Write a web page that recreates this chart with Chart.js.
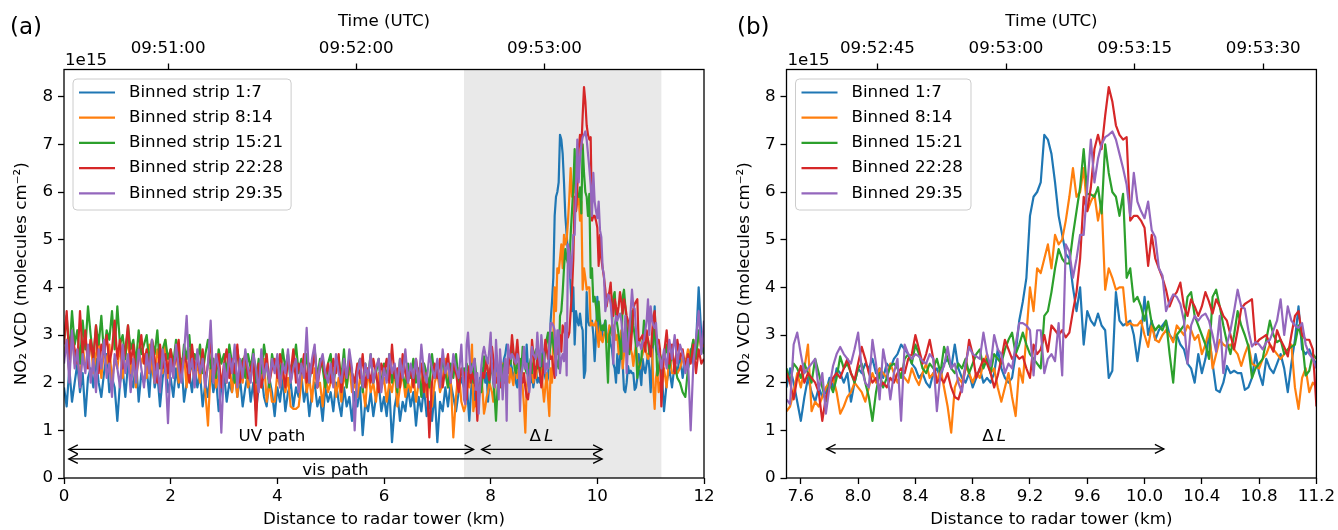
<!DOCTYPE html>
<html>
<head>
<meta charset="utf-8">
<script src="https://cdn.jsdelivr.net/npm/chart.js@4.4.1/dist/chart.umd.min.js"></script>
<style>
  html, body { margin: 0; padding: 0; background: #fff; }
  #wrap { position: relative; width: 1338px; height: 530px; }
  #wrap canvas { position: absolute; top: 0; }
  #ca { left: 0; }
  #cb { left: 720px; }
</style>
</head>
<body>
<div id="wrap">
  <canvas id="ca" width="720" height="530"></canvas>
  <canvas id="cb" width="618" height="530"></canvas>
</div>
<script>
// ---- data (NO2 VCD in units of 1e15 molecules cm^-2) ----
// sampling grids: far part of the track (panel a only) and the plume part (both panels)
const FAR_LEFT_START = 0, FAR_RIGHT_START = 11.25, FAR_STEP = 0.05;
const PLUME_START = 7.5, PLUME_STEP = 0.025;

const LABELS_A = ['Binned strip 1:7', 'Binned strip 8:14', 'Binned strip 15:21', 'Binned strip 22:28', 'Binned strip 29:35'];
const LABELS_B = ['Binned 1:7', 'Binned 8:14', 'Binned 15:21', 'Binned 22:28', 'Binned 29:35'];
const COLORS = ['#1f77b4', '#ff7f0e', '#2ca02c', '#d62728', '#9467bd'];

// 0 - 7.45 km
const s1_far = [1.9,1.5,2.3,1.6,2.0,2.4,1.8,2.2,1.3,2.1, 2.3,1.9,2.5,2.0,1.7,2.2,2.6,1.8,2.1,1.9, 1.2,2.0,2.3,1.7,2.4,2.1,1.9,2.5,1.6,2.2, 2.0,2.3,1.7,2.6,1.9,2.2,1.5,2.1,2.4,1.8, 2.1,1.7,2.3,1.9,2.5,1.6,2.0,2.2,1.8,2.4, 1.9,2.2,1.5,2.0,1.7,2.3,1.8,2.1,1.4,1.9, 2.2,1.6,2.0,1.8,2.4,1.7,2.1,1.5,1.9,2.2, 1.6,2.0,1.4,1.9,2.2,1.7,1.5,2.1,1.8,1.3, 1.9,1.6,2.1,1.4,1.8,2.0,1.5,1.9,1.7,2.2, 1.6,1.9,1.3,1.8,2.0,1.5,1.7,1.2,1.9,1.6, 1.8,1.4,2.0,1.6,1.3,1.9,1.5,1.7,1.2,1.8, 1.5,1.9,0.9,1.6,1.4,1.8,1.3,1.7,2.0,1.4, 1.7,1.3,1.9,0.75,1.5,1.8,1.2,1.6,1.4,1.9, 1.5,1.8,1.1,1.7,1.4,1.9,1.3,1.6,1.2,1.8, 0.75,1.6,1.4,1.9,1.5,2.0,1.7,1.4,1.8,2.1];
const s2_far = [2.6,2.9,2.2,3.1,2.4,2.7,2.0,2.8,2.3,2.5, 2.9,2.2,2.6,3.0,2.1,2.7,2.4,2.8,2.0,2.5, 2.3,2.8,2.1,2.6,2.9,2.2,2.5,1.9,2.7,2.4, 2.6,2.1,2.8,2.3,2.0,2.7,2.4,2.2,2.9,2.1, 2.5,2.2,2.8,2.0,2.4,2.6,1.9,2.7,2.3,2.1, 2.4,2.0,2.6,1.8,1.1,2.3,2.5,1.9,2.2,2.0, 2.3,2.0,2.5,1.8,2.2,1.7,2.4,2.0,2.6,1.9, 2.1,2.4,1.7,2.2,1.9,2.5,1.6,2.0,1.6,1.6, 2.2,1.9,2.3,1.8,2.1,1.5,1.45,1.45,1.5,2.0, 2.4,1.8,2.1,1.6,2.3,1.9,2.0,1.5,2.2,1.8, 2.0,2.3,1.7,2.1,1.6,2.2,1.9,2.4,1.8,2.0, 1.7,2.1,1.9,1.5,2.3,1.8,2.0,1.6,2.2,1.9, 2.1,1.6,2.0,1.8,2.3,1.5,1.9,2.2,1.7,2.0, 1.8,2.2,1.6,2.0,1.9,2.4,1.7,2.1,1.5,2.0, 2.2,1.8,2.0,2.5,1.9,2.1,0.85,1.7,2.3,1.6];
const s3_far = [2.9,3.4,2.6,3.5,2.8,3.1,2.4,3.3,2.7,3.6, 3.0,2.5,3.2,2.8,3.4,2.6,3.1,2.9,3.5,2.7, 3.6,2.8,3.0,2.5,3.2,2.7,2.9,2.4,3.1,2.6, 2.8,3.0,2.4,2.9,2.6,3.1,2.3,2.7,2.9,2.5, 2.7,2.4,2.9,2.6,2.2,2.8,2.5,3.0,2.3,2.6, 2.4,2.8,2.2,2.6,2.9,2.3,2.5,2.1,2.7,2.4, 2.6,2.2,2.8,2.4,2.0,2.7,2.3,2.5,2.1,2.6, 2.3,2.7,2.0,2.5,2.2,2.8,2.4,1.9,2.6,2.3, 2.5,2.1,2.7,2.3,2.6,2.0,2.4,2.8,2.2,2.5, 2.2,2.6,2.0,2.4,2.7,2.1,2.5,2.3,1.9,2.4, 2.6,2.0,2.3,2.5,2.1,2.7,1.9,2.4,2.2,2.0, 2.3,2.5,1.8,2.4,2.1,2.6,2.0,2.2,2.5,1.9, 2.4,2.1,2.6,2.0,2.3,1.8,2.5,2.2,1.9,2.4, 2.1,2.5,2.0,2.3,1.7,2.4,2.2,1.9,2.6,2.1, 2.3,2.0,2.5,2.2,1.9,2.4,2.1,2.6,2.0,2.2];
const s4_far = [2.8,3.5,2.5,3.0,2.7,2.4,3.5,2.6,3.1,2.3, 2.9,2.5,3.2,2.2,2.8,2.6,3.0,2.4,2.7,3.3, 2.5,2.9,2.3,2.7,3.2,2.4,2.8,2.1,2.6,3.0, 2.4,2.7,2.2,2.9,2.5,2.0,2.8,2.3,2.6,2.2, 2.7,2.3,2.5,2.9,2.1,2.6,2.4,2.0,2.8,2.3, 2.5,2.2,2.7,2.0,2.4,2.9,2.1,2.3,2.6,1.9, 2.4,2.7,2.1,2.5,2.2,2.8,2.0,2.4,2.6,2.1, 2.3,2.5,1.1,2.4,1.9,2.2,2.6,2.0,2.3,2.5, 2.1,2.6,2.3,1.9,2.5,2.2,2.7,2.0,2.4,2.2, 2.6,2.0,2.4,2.2,2.7,1.9,2.3,2.5,2.1,2.4, 2.0,2.5,2.2,2.6,1.8,2.3,2.1,2.5,2.2,2.0, 2.4,2.1,2.6,1.9,2.3,2.0,2.5,2.2,1.8,2.4, 2.2,2.5,2.0,2.8,2.1,2.3,1.9,2.6,2.2,2.0, 2.3,1.9,2.5,2.1,2.4,1.8,2.2,0.85,2.0,2.4, 2.1,2.5,1.9,2.3,2.6,2.0,2.4,2.2,1.8,2.3];
const s5_far = [2.4,2.9,2.0,3.1,2.3,2.7,1.9,2.6,2.2,2.8, 2.0,2.5,1.8,2.7,2.3,2.9,2.1,2.4,1.7,2.6, 2.3,1.9,2.8,2.2,2.6,1.8,2.5,2.0,2.7,2.3, 1.9,2.6,2.2,2.9,2.0,2.4,1.8,2.7,2.3,1.15, 2.5,2.1,2.8,2.3,2.0,2.6,3.4,2.2,2.5,1.9, 2.7,2.2,2.5,1.9,2.4,3.3,2.0,2.6,2.3,0.95, 2.4,2.0,2.6,2.2,2.8,1.9,2.5,2.1,2.7,2.3, 2.0,2.6,2.3,1.8,2.7,2.1,2.4,2.0,2.5,2.2, 2.6,1.9,2.4,2.2,2.7,2.0,2.3,2.5,1.8,2.4, 2.1,3.15,2.0,2.5,2.8,1.9,2.4,2.6,2.2,2.0, 2.4,1.9,2.6,2.2,2.0,2.5,2.1,2.7,2.3,1.0, 2.2,2.5,1.9,2.4,2.1,2.6,2.0,2.3,2.5,1.8, 2.3,2.0,2.6,2.2,2.4,1.9,2.5,2.1,2.7,2.0, 2.4,2.1,2.5,1.9,2.8,2.2,2.0,2.6,2.3,2.1, 2.5,1.9,2.7,2.2,2.4,2.0,2.6,2.3,2.1,2.8];

// 7.5 - 11.2 km (plume crossing)
const s1_plume = [1.9,2.3,2.0,1.6,1.2,1.7,2.1,1.8,1.6,1.9,1.7,1.8,2.1,1.9,2.3,2.2,2.0,2.2,1.6,2.0, 2.3,2.2,2.4,2.3,2.5,2.2,2.3,2.1,2.4,2.3,2.5,2.6,2.8,2.7,2.6,2.4,2.3,2.1,2.2,2.0, 1.9,2.2,2.3,2.1,2.4,2.5,2.3,2.8,2.3,2.1,2.0,2.2,1.9,2.1,2.3,2.0,2.1,2.0,2.2,2.7, 2.3,2.1,2.0,2.1,2.6,3.3,3.7,4.2,5.5,5.9,6.0,6.2,7.2,7.1,6.8,6.2,5.5,5.1,4.7,4.6, 4.0,3.5,4.0,2.8,3.5,3.3,3.2,3.45,3.2,3.1,2.1,2.25,3.9,3.3,3.2,3.25,3.3,3.0,2.45,3.0, 3.8,3.0,3.3,2.9,3.1,3.2,3.3,3.0,2.9,3.0,2.8,2.7,2.4,2.3,2.0,2.6,2.2,2.5,3.0,2.4, 1.85,1.8,2.0,2.35,2.2,2.25,2.2,2.2,1.85,1.9,2.1,2.6,2.2,1.95,2.5,2.3,2.2,2.4,2.6,2.3, 1.8,2.4,2.9,3.6,2.7,2.6,2.7,2.5,2.4];
const s2_plume = [1.4,1.5,1.8,2.2,1.9,2.3,2.8,1.4,1.6,1.5,1.7,1.9,2.0,2.1,1.8,1.35,1.5,1.7,1.8,2.0, 1.9,1.8,1.6,1.9,2.2,2.0,2.3,2.2,2.1,2.4,2.2,2.0,2.2,2.1,2.0,2.3,2.1,1.95,2.2,2.4, 2.1,2.2,2.0,2.3,1.9,1.5,0.95,1.9,2.1,2.0,2.35,2.2,2.0,2.2,2.1,2.4,2.6,2.2,2.3,1.9, 1.6,1.9,2.2,1.7,1.3,2.3,2.0,3.0,4.0,3.5,4.4,4.3,4.6,4.9,4.4,5.1,4.9,5.0,5.4,5.9, 6.5,5.9,6.0,6.5,5.6,5.8,5.95,5.4,5.8,3.95,4.4,4.2,3.95,4.0,4.0,3.2,3.25,3.2,3.2,3.3, 3.0,2.75,3.2,2.9,2.85,3.0,3.1,3.0,2.85,3.2,3.1,3.0,3.2,3.1,2.9,3.0,2.6,2.8,3.1,2.3, 2.6,2.9,2.8,2.75,2.8,2.7,2.6,2.35,2.6,2.8,2.4,2.35,2.3,2.5,2.6,2.8,2.7,2.6,2.5,2.6, 2.7,2.8,1.9,1.45,2.1,2.3,1.8,2.0,1.9];
const s3_plume = [2.3,2.0,2.4,2.3,2.1,2.4,2.2,2.0,2.5,2.2,1.9,1.6,2.0,1.8,2.1,2.55,2.3,2.4,2.2,2.0, 2.3,2.4,2.0,1.7,1.2,1.8,2.2,1.9,2.1,2.35,2.4,2.3,2.1,2.5,2.6,2.4,2.8,2.6,2.3,2.2, 2.4,2.3,2.5,2.2,2.75,2.5,2.3,2.2,2.4,2.3,2.5,2.2,2.4,2.6,2.7,2.3,2.5,2.2,2.6,2.5, 2.4,2.7,2.9,3.05,2.6,2.8,3.05,2.8,2.6,2.5,2.4,2.3,3.4,3.5,3.9,4.4,4.8,4.6,4.5,4.5, 5.1,5.6,6.1,6.9,5.96,5.95,5.9,6.1,5.55,7.0,6.4,6.0,5.9,5.5,5.96,4.2,4.4,3.7,3.8,3.6, 3.3,3.7,3.25,3.1,3.2,3.1,3.3,2.6,2.0,3.0,3.1,3.2,3.8,3.9,3.4,3.2,3.0,2.8,2.5,3.8, 3.95,3.6,3.2,2.85,2.6,3.0,3.5,3.2,3.0,2.76,2.1,2.3,2.4,2.5,2.9,3.3,3.0,2.85,2.9,2.6, 2.7,2.75,2.8,3.2,2.9,2.15,2.25,2.6,2.5];
const s4_plume = [2.2,2.0,1.65,2.1,2.35,2.0,2.2,2.1,2.0,1.8,1.2,1.7,1.9,2.1,2.2,2.1,2.3,2.5,2.2,2.05, 2.4,2.75,2.5,2.2,2.0,2.1,1.9,2.0,1.9,2.1,2.0,2.2,2.3,2.2,2.5,2.6,3.0,2.7,2.4,2.6, 2.9,2.5,2.0,2.1,2.0,2.2,1.9,1.7,1.65,1.9,2.3,2.9,2.6,2.1,2.3,2.5,2.4,2.2,1.9,2.15, 2.5,2.9,2.7,2.5,2.6,2.5,2.55,2.3,2.1,2.8,2.6,2.7,3.0,2.65,3.2,3.1,3.0,3.1,2.95,3.05, 3.5,3.9,4.6,5.9,5.6,6.1,6.9,7.2,6.9,7.6,8.2,7.9,7.4,7.2,7.1,7.15,5.4,5.5,5.5,5.4, 5.25,4.45,5.1,4.6,4.4,4.2,3.95,3.6,3.8,3.9,4.1,3.6,3.4,3.75,3.6,3.4,3.6,3.9,3.7,3.45, 3.75,3.6,3.4,3.3,3.0,2.7,3.1,3.55,3.65,3.7,3.75,2.8,2.9,2.95,3.0,2.8,2.65,3.1,2.9,2.75, 2.55,3.0,3.4,3.5,3.0,2.9,2.9,2.7,1.5];
const s5_plume = [1.65,1.55,2.8,3.05,2.6,2.2,2.3,2.4,2.5,1.85,2.2,1.35,1.9,2.35,2.6,2.75,2.6,2.5,2.4,2.7, 3.05,2.3,2.0,1.9,2.9,2.4,1.65,2.7,2.3,1.65,2.2,2.5,1.2,2.8,2.6,2.5,2.6,2.55,2.45,2.4, 2.6,2.5,1.4,2.2,2.35,2.75,2.3,2.4,2.0,1.8,2.4,2.75,2.6,2.55,2.5,3.05,2.6,2.35,3.0,2.7, 2.6,2.2,2.4,2.3,2.8,3.25,3.25,3.2,3.1,2.15,3.1,3.1,2.2,2.5,2.6,2.45,3.25,2.15,4.9,4.75, 4.2,4.6,5.1,5.1,6.1,7.1,6.2,6.7,7.0,7.15,7.2,7.27,7.1,6.8,6.5,6.15,5.5,6.4,5.8,5.6, 5.45,5.8,5.2,5.05,4.4,4.25,3.5,3.7,3.85,3.8,3.65,3.3,2.4,3.2,3.4,3.3,3.4,3.45,3.3,3.0, 2.65,3.4,2.2,2.8,3.1,3.5,3.95,3.6,3.55,3.1,2.76,2.85,2.8,2.7,2.85,2.9,3.1,3.3,3.75,3.0, 3.6,3.3,3.2,3.15,3.25,2.8,2.6,2.5,2.3];

// 11.25 - 12 km
const s1_end = [1.4,2.0,2.3,1.9,2.4,2.2,2.6,2.1,2.5,2.3,2.7,2.4,2.8,4.0,3.0,2.6];
const s2_end = [2.3,1.9,2.6,2.2,2.2,2.2,2.3,2.5,2.4,2.7,2.5,2.9,2.6,3.0,2.7,2.8];
const s3_end = [2.5,2.8,2.3,2.6,2.4,2.1,2.0,1.8,1.7,2.3,2.6,2.9,2.5,3.1,2.8,2.6];
const s4_end = [2.6,3.1,2.4,2.8,2.2,2.9,2.5,2.7,2.3,2.6,2.4,2.8,2.2,2.7,2.4,2.5];
const s5_end = [2.7,2.3,2.9,2.5,3.0,2.4,2.8,2.6,2.2,2.5,1.0,2.4,2.9,3.5,2.6,3.3];

// axes
const Y_TICKS = [0, 1, 2, 3, 4, 5, 6, 7, 8];
const Y_MAX = 8.57;
const X_TICKS_A = [0, 2, 4, 6, 8, 10, 12];
const X_TICKS_B = [7.6, 8.0, 8.4, 8.8, 9.2, 9.6, 10.0, 10.4, 10.8, 11.2];
// time axis in seconds after 09:50:00
const TIME_TICKS_A = [60, 120, 180];
const TIME_RANGE_A = [26.8, 230.9];
const TIME_TICKS_B = [165, 180, 195, 210];
const TIME_RANGE_B = [154.4, 216.2];

const SHADE_KM = [7.5, 11.2];

const FAR = [s1_far, s2_far, s3_far, s4_far, s5_far];
const PLUME = [s1_plume, s2_plume, s3_plume, s4_plume, s5_plume];
const END = [s1_end, s2_end, s3_end, s4_end, s5_end];

// ---- helpers ----
const FONT_FAMILY = "'DejaVu Sans', sans-serif";
const FS = 16.7;
Chart.defaults.font.family = FONT_FAMILY;
Chart.defaults.font.size = FS;
Chart.defaults.color = '#000';

const toPoints = (start, step, vals) => vals.map((v, i) => ({ x: +(start + i * step).toFixed(3), y: v }));

function fmtTime(s) {
  const m = 50 + Math.floor(s / 60);
  const sec = Math.round(s - (m - 50) * 60);
  return '09:' + m + ':' + String(sec).padStart(2, '0');
}

const tickGrid = { drawOnChartArea: false, drawTicks: true, tickLength: 6, tickColor: '#000', tickWidth: 1.3 };

function makeScales(o) {
  return {
    x: {
      type: 'linear', position: 'bottom', min: o.xMin, max: o.xMax,
      afterBuildTicks: s => { s.ticks = o.xTicks.map(v => ({ value: v })); },
      ticks: { autoSkip: false, maxRotation: 0, padding: 3, callback: o.xFmt },
      grid: tickGrid, border: { display: false },
      title: { display: true, text: 'Distance to radar tower (km)', padding: { top: 0, bottom: 0 } },
      afterFit: s => { s.height = 52; }
    },
    t: {
      type: 'linear', position: 'top', min: o.tRange[0], max: o.tRange[1],
      afterBuildTicks: s => { s.ticks = o.tTicks.map(v => ({ value: v })); },
      ticks: { autoSkip: false, maxRotation: 0, padding: 5, callback: v => fmtTime(v) },
      grid: tickGrid, border: { display: false },
      title: { display: true, text: 'Time (UTC)', padding: { top: 12, bottom: 0 } },
      afterFit: s => { s.height = 69.5; }
    },
    y: {
      type: 'linear', position: 'left', min: 0, max: Y_MAX,
      afterBuildTicks: s => { s.ticks = Y_TICKS.map(v => ({ value: v })); },
      ticks: { padding: 5, callback: v => String(v) },
      grid: tickGrid, border: { display: false },
      title: { display: true, text: 'NO\u2082 VCD (molecules cm\u207B\u00B2)', padding: { top: o.yTitlePad, bottom: 0 } },
      afterFit: s => { s.width = o.leftW; }
    }
  };
}

function arrow(ctx, x1, x2, y) {
  ctx.beginPath(); ctx.moveTo(x1, y); ctx.lineTo(x2, y); ctx.stroke();
  [[x1, 1], [x2, -1]].forEach(([x, d]) => {
    ctx.beginPath();
    ctx.moveTo(x + d * 9, y - 4.5); ctx.lineTo(x, y); ctx.lineTo(x + d * 9, y + 4.5);
    ctx.stroke();
  });
}

function deltaL(ctx, cx, cy) {
  ctx.font = FS + 'px ' + FONT_FAMILY;
  const w1 = ctx.measureText('\u0394').width;
  ctx.font = 'italic ' + FS + 'px ' + FONT_FAMILY;
  const w2 = ctx.measureText('L').width;
  const gap = 3;
  const x0 = cx - (w1 + gap + w2) / 2;
  ctx.textAlign = 'left';
  ctx.font = FS + 'px ' + FONT_FAMILY;
  ctx.fillText('\u0394', x0, cy);
  ctx.font = 'italic ' + FS + 'px ' + FONT_FAMILY;
  ctx.fillText('L', x0 + w1 + gap, cy);
}

// panel decorations: shade, frame, legend, annotations, letters
function decor(o) {
  return {
    id: 'decor',
    beforeDatasetsDraw(chart) {
      if (!o.shade) return;
      const { ctx, chartArea: a, scales: { x } } = chart;
      ctx.save();
      ctx.fillStyle = 'rgba(211,211,211,0.5)';
      const x1 = x.getPixelForValue(SHADE_KM[0]), x2 = x.getPixelForValue(SHADE_KM[1]);
      ctx.fillRect(x1, a.top, x2 - x1, a.bottom - a.top);
      ctx.restore();
    },
    afterDatasetsDraw(chart) {
      const { ctx, chartArea: a, scales: { x, y } } = chart;
      ctx.save();
      // arrows and labels
      ctx.strokeStyle = '#000'; ctx.fillStyle = '#000'; ctx.lineWidth = 1.3;
      o.arrows.forEach(r => arrow(ctx, x.getPixelForValue(r[0]), x.getPixelForValue(r[1]), y.getPixelForValue(r[2])));
      ctx.textBaseline = 'middle';
      ctx.textAlign = 'center';
      ctx.font = FS + 'px ' + FONT_FAMILY;
      o.texts.forEach(t => {
        if (t[0] === 'dL') deltaL(ctx, x.getPixelForValue(t[1]), y.getPixelForValue(t[2]));
        else { ctx.textAlign = 'center'; ctx.font = FS + 'px ' + FONT_FAMILY; ctx.fillText(t[0], x.getPixelForValue(t[1]), y.getPixelForValue(t[2])); }
      });
      // frame
      ctx.strokeStyle = '#000'; ctx.lineWidth = 1.3;
      ctx.strokeRect(a.left, a.top, a.right - a.left, a.bottom - a.top);
      // legend
      ctx.font = FS + 'px ' + FONT_FAMILY;
      const ds = chart.data.datasets;
      const tw = Math.max(...ds.map(d => ctx.measureText(d.label).width));
      const lx = a.left + 9, ly = a.top + 9.5, lw = 56 + tw + 8, lh = 131;
      ctx.fillStyle = 'rgba(255,255,255,0.8)';
      ctx.strokeStyle = '#cccccc'; ctx.lineWidth = 1;
      ctx.beginPath(); ctx.roundRect(lx, ly, lw, lh, 4); ctx.fill(); ctx.stroke();
      ds.forEach((d, i) => {
        const cy = ly + 13.5 + i * 25.2;
        ctx.strokeStyle = d.borderColor; ctx.lineWidth = 2.2;
        ctx.beginPath(); ctx.moveTo(lx + 6, cy); ctx.lineTo(lx + 42, cy); ctx.stroke();
        ctx.fillStyle = '#000'; ctx.textAlign = 'left'; ctx.textBaseline = 'middle';
        ctx.fillText(d.label, lx + 56, cy);
      });
      // offset text and panel letter
      ctx.textBaseline = 'alphabetic'; ctx.textAlign = 'left';
      ctx.fillText('1e15', a.left + 1, a.top - 4.5);
      ctx.font = '23px ' + FONT_FAMILY;
      ctx.fillText(o.letter, o.letterX, 34);
      ctx.restore();
    }
  };
}

function makeChart(id, o) {
  // later series drawn on top (lower order = drawn last)
  const datasets = o.series.map((pts, k) => ({
    label: o.labels[k], data: pts, borderColor: COLORS[k], backgroundColor: COLORS[k],
    borderWidth: 2.2, pointRadius: 0, tension: 0, fill: false, borderJoinStyle: 'round',
    order: o.series.length - k
  }));
  return new Chart(document.getElementById(id), {
    type: 'line',
    data: { datasets },
    options: {
      responsive: false, animation: false, events: [],
      parsing: false,
      layout: { padding: { left: 0, right: o.padRight, top: 0, bottom: 0 } },
      plugins: { legend: { display: false }, tooltip: { enabled: false } },
      scales: makeScales(o)
    },
    plugins: [decor(o)]
  });
}

const seriesA = FAR.map((f, k) => [
  ...toPoints(FAR_LEFT_START, FAR_STEP, f),
  ...toPoints(PLUME_START, PLUME_STEP, PLUME[k]),
  ...toPoints(FAR_RIGHT_START, FAR_STEP, END[k])
]);
const seriesB = PLUME.map(p => toPoints(PLUME_START, PLUME_STEP, p));

makeChart('ca', {
  series: seriesA, labels: LABELS_A,
  xMin: 0, xMax: 12, xTicks: X_TICKS_A, xFmt: v => String(v),
  tTicks: TIME_TICKS_A, tRange: TIME_RANGE_A,
  leftW: 64, padRight: 16, yTitlePad: 12,
  shade: true,
  arrows: [[0.09, 7.68, 0.6], [7.83, 10.09, 0.6], [0.09, 10.09, 0.4]],
  texts: [['UV path', 3.9, 0.87], ['vis path', 5.09, 0.16], ['dL', 8.95, 0.87]],
  letter: '(a)', letterX: 10
});

makeChart('cb', {
  series: seriesB, labels: LABELS_B,
  xMin: 7.5, xMax: 11.2, xTicks: X_TICKS_B, xFmt: v => v.toFixed(1),
  tTicks: TIME_TICKS_B, tRange: TIME_RANGE_B,
  leftW: 66.5, padRight: 18, yTitlePad: 15,
  shade: false,
  arrows: [[7.78, 10.135, 0.61]],
  texts: [['dL', 8.95, 0.87]],
  letter: '(b)', letterX: 17
});
</script>
</body>
</html>
